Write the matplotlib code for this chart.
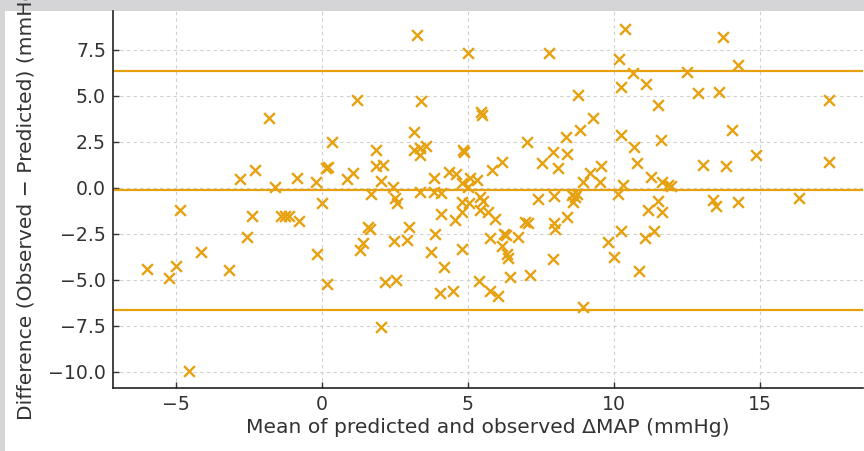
import matplotlib
matplotlib.use("Agg")
import matplotlib.pyplot as plt
from matplotlib.patches import Rectangle
import numpy as np

# Bland-Altman data: mean of predicted & observed (x) vs difference (y)
mean_vals = [
    -5.98, -5.24, -5.00, -4.86, -4.55, -4.14, -3.18, -2.82, -2.56, -2.41,
    -2.30, -1.83, -1.62, -1.39, -1.27, -1.14, -0.85, -0.79, -0.22, -0.16,
    0.00, 0.15, 0.21, 0.18, 0.34, 0.87, 1.06, 1.21, 1.30, 1.40,
    1.57, 1.66, 1.67, 1.84, 1.84, 2.08, 2.03, 2.02, 2.15, 2.42,
    2.50, 2.56, 2.48, 2.52, 2.90, 2.97, 3.14, 3.14, 3.36, 3.55,
    3.36, 3.26, 3.39, 3.34, 3.72, 3.84, 3.82, 4.07, 3.88, 4.06,
    4.17, 4.05, 4.36, 4.58, 4.49, 4.55, 4.78, 4.78, 4.79, 4.81,
    4.82, 4.85, 4.99, 5.01, 5.07, 5.30, 5.03, 5.41, 5.53, 5.40,
    5.70, 5.92, 5.45, 5.47, 5.39, 5.75, 6.03, 5.75, 5.81, 6.18,
    6.23, 6.30, 6.15, 6.33, 6.38, 6.45, 6.72, 6.95, 7.05, 7.03,
    7.11, 7.39, 7.55, 7.77, 7.92, 7.92, 7.96, 7.96, 7.98, 8.07,
    8.35, 8.38, 8.40, 8.55, 8.66, 8.72, 8.61, 8.78, 8.84, 8.93,
    8.95, 9.18, 9.29, 9.52, 9.57, 9.78, 10.01, 10.17, 10.23, 10.24,
    10.15, 10.23, 10.30, 10.38, 10.66, 10.68, 10.78, 10.87, 11.06, 11.08,
    11.15, 11.27, 11.38, 11.52, 11.52, 11.61, 11.63, 11.63, 11.85, 11.95,
    12.49, 12.87, 13.04, 13.38, 13.51, 13.60, 13.72, 13.84, 14.05, 14.26,
    14.26, 14.85, 16.35, 17.38, 17.36,
]
diff_vals = [
    -4.41, -4.92, -4.23, -1.18, -9.96, -3.50, -4.47, 0.48, -2.69, -1.52,
    0.96, 3.79, 0.05, -1.51, -1.51, -1.53, 0.56, -1.78, 0.32, -3.60,
    -0.84, 1.08, 1.14, -5.25, 2.48, 0.50, 0.79, 4.76, -3.38, -3.00,
    -2.14, -2.22, -0.32, 2.06, 1.20, 1.22, 0.35, -7.58, -5.14, 0.04,
    -0.57, -0.82, -2.89, -5.01, -2.83, -2.15, 3.06, 2.06, 2.15, 2.26,
    1.79, 8.32, 4.70, -0.25, -3.51, 0.56, -0.25, -0.28, -2.51, -1.42,
    -4.29, -5.72, 0.86, 0.76, -5.61, -1.77, 0.25, -0.77, -3.32, -1.29,
    2.06, 1.94, 7.36, 0.05, 0.52, 0.45, -0.85, -0.48, -0.72, -1.22,
    -1.30, -1.67, 4.15, 3.97, -5.05, -5.63, -5.88, -2.72, 0.97, 1.41,
    -2.50, -2.58, -3.17, -3.60, -3.80, -4.85, -2.65, -1.84, -1.93, 2.48,
    -4.74, -0.60, 1.34, 7.32, 1.93, -3.89, -0.42, -1.90, -2.25, 1.07,
    2.75, 1.86, -1.58, -0.39, -0.48, -0.33, -0.75, 5.07, 3.15, -6.50,
    0.34, 0.79, 3.80, 0.34, 1.20, -2.93, -3.74, 7.00, 5.51, 2.88,
    -0.35, -2.34, 0.16, 8.64, 6.23, 2.24, 1.37, -4.52, -2.74, 5.65,
    -1.20, 0.61, -2.34, 4.51, -0.70, 2.61, 0.31, -1.29, 0.15, 0.12,
    6.32, 5.15, 1.25, -0.66, -1.00, 5.23, 8.23, 1.21, 3.15, 6.69,
    -0.77, 1.79, -0.58, 4.78, 1.39,
]
bias = -0.14
upper_loa = 6.36
lower_loa = -6.64

x_ticks = [-5, 0, 5, 10, 15]
y_ticks = [-10.0, -7.5, -5.0, -2.5, 0.0, 2.5, 5.0, 7.5]
x_label = "Mean of predicted and observed \u0394MAP (mmHg)"
y_label = "Difference (Observed \u2212 Predicted) (mmHg)"

orange = "#E6A10F"
text_col = "#333333"

W, H = 864, 451
fig = plt.figure(figsize=(W / 100, H / 100), dpi=100, facecolor="#d5d5d7")
fig.patches.append(Rectangle((5 / W, 0), (W - 5) / W, (H - 11) / H,
                             transform=fig.transFigure, facecolor="white",
                             edgecolor="none", zorder=-1))

left, right, top, bottom = 113, 863, 11, 388
ax = fig.add_axes([left / W, (H - bottom) / H, (right - left) / W, (bottom - top) / H])

ax.scatter(mean_vals, diff_vals, marker="x", s=60, linewidths=1.7, color=orange, zorder=3)
ax.axhline(bias, color=orange, lw=1.6, zorder=2)
ax.axhline(upper_loa, color=orange, lw=1.6, zorder=2)
ax.axhline(lower_loa, color=orange, lw=1.6, zorder=2)

ax.set_xlim(-7.16, 18.53)
ax.set_ylim(-10.89, 9.62)
ax.set_xticks(x_ticks)
ax.set_yticks(y_ticks)
ax.set_yticklabels([f"{v:.1f}".replace("-", "\u2212") for v in y_ticks])
ax.set_xticklabels([f"{v}".replace("-", "\u2212") for v in x_ticks])

ax.grid(True, linestyle=(0, (3, 3)), color="#d0d0d0", linewidth=0.8)
ax.set_axisbelow(True)
ax.tick_params(direction="in", length=4, width=1, colors=text_col, labelsize=13.6, pad=5)
for side in ["top", "right"]:
    ax.spines[side].set_visible(False)
for side in ["left", "bottom"]:
    ax.spines[side].set_color("#222222")
    ax.spines[side].set_linewidth(1.2)

ax.set_xlabel(x_label, fontsize=14.6, color=text_col, labelpad=3)
ax.set_ylabel(y_label, fontsize=14.6, color=text_col, labelpad=8.5)

fig.savefig("out.png", dpi=100, facecolor=fig.get_facecolor())
